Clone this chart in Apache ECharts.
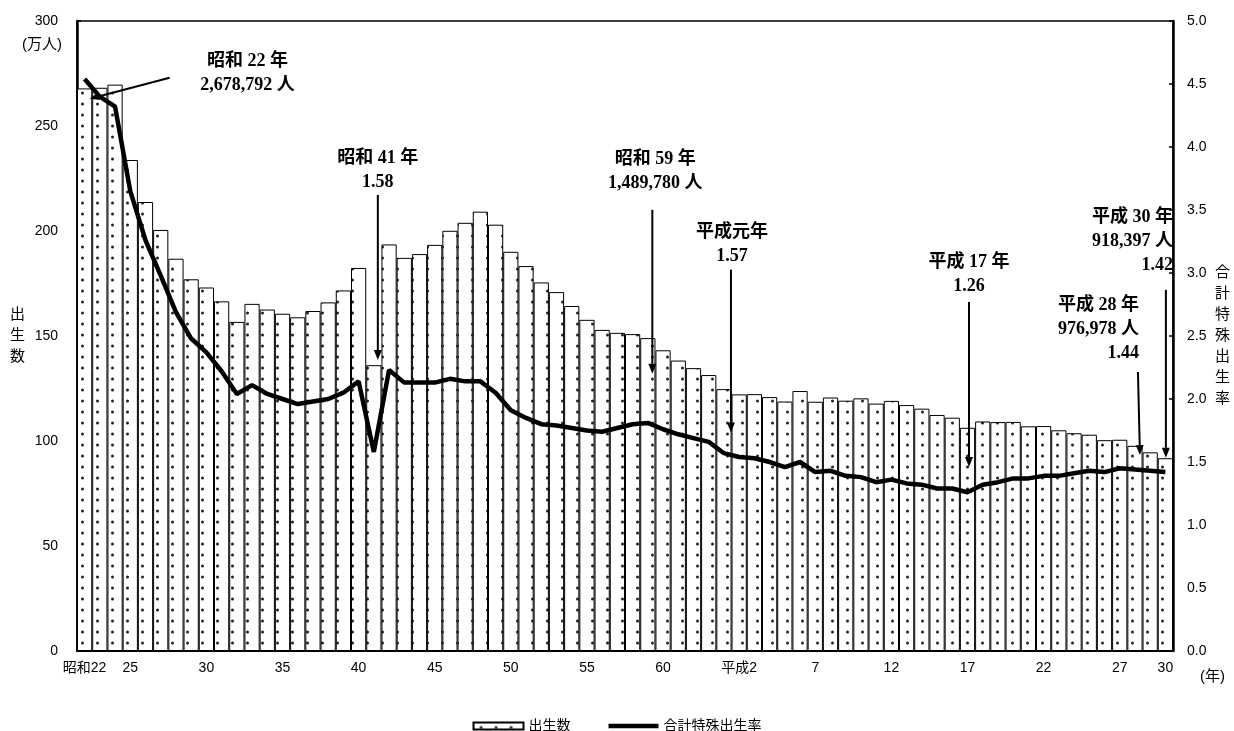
<!DOCTYPE html>
<html>
<head>
<meta charset="utf-8">
<script src="https://cdn.jsdelivr.net/npm/echarts@6/dist/echarts.min.js"></script>
<style>
    html, body { margin: 0; padding: 0; background: #fff; }
    #chart { width: 1234px; height: 731px; }
</style>
</head>
<body>
<div id="chart"></div>
<script>
// 年次（昭和22年〜平成30年）
var categories = [
    '昭和22', '昭和23', '昭和24', '昭和25', '昭和26', '昭和27', '昭和28', '昭和29', '昭和30', '昭和31',
    '昭和32', '昭和33', '昭和34', '昭和35', '昭和36', '昭和37', '昭和38', '昭和39', '昭和40', '昭和41',
    '昭和42', '昭和43', '昭和44', '昭和45', '昭和46', '昭和47', '昭和48', '昭和49', '昭和50', '昭和51',
    '昭和52', '昭和53', '昭和54', '昭和55', '昭和56', '昭和57', '昭和58', '昭和59', '昭和60', '昭和61',
    '昭和62', '昭和63', '平成元', '平成2', '平成3', '平成4', '平成5', '平成6', '平成7', '平成8',
    '平成9', '平成10', '平成11', '平成12', '平成13', '平成14', '平成15', '平成16', '平成17', '平成18',
    '平成19', '平成20', '平成21', '平成22', '平成23', '平成24', '平成25', '平成26', '平成27', '平成28',
    '平成29', '平成30'
];
// x軸に表示する年と表示文字
var tickCats = ['昭和22', '昭和25', '昭和30', '昭和35', '昭和40', '昭和45', '昭和50', '昭和55', '昭和60',
    '平成2', '平成7', '平成12', '平成17', '平成22', '平成27', '平成30'];
var tickTexts = ['昭和22', '25', '30', '35', '40', '45', '50', '55', '60',
    '平成2', '7', '12', '17', '22', '27', '30'];

// 出生数（万人）
var births = [
    267.9, 268.2, 269.7, 233.8, 213.8, 200.5, 186.8, 177.0, 173.1, 166.5,
    156.7, 165.3, 162.6, 160.6, 158.9, 161.9, 166.0, 171.7, 182.4, 136.1,
    193.6, 187.2, 189.0, 193.4, 200.1, 203.9, 209.2, 203.0, 190.1, 183.3,
    175.5, 170.9, 164.3, 157.7, 152.9, 151.5, 150.9, 149.0, 143.2, 138.3,
    134.7, 131.4, 124.7, 122.2, 122.3, 120.9, 118.8, 123.8, 118.7, 120.7,
    119.2, 120.3, 117.8, 119.1, 117.1, 115.4, 112.4, 111.1, 106.3, 109.3,
    109.0, 109.1, 107.0, 107.1, 105.1, 103.7, 103.0, 100.4, 100.6, 97.7,
    94.6, 91.8
];
// 合計特殊出生率
var tfr = [
    4.54, 4.40, 4.32, 3.65, 3.26, 2.98, 2.69, 2.48, 2.37, 2.22,
    2.04, 2.11, 2.04, 2.00, 1.96, 1.98, 2.00, 2.05, 2.14, 1.58,
    2.23, 2.13, 2.13, 2.13, 2.16, 2.14, 2.14, 2.05, 1.91, 1.85,
    1.80, 1.79, 1.77, 1.75, 1.74, 1.77, 1.80, 1.81, 1.76, 1.72,
    1.69, 1.66, 1.57, 1.54, 1.53, 1.50, 1.46, 1.50, 1.42, 1.43,
    1.39, 1.38, 1.34, 1.36, 1.33, 1.32, 1.29, 1.29, 1.26, 1.32,
    1.34, 1.37, 1.37, 1.39, 1.39, 1.41, 1.43, 1.42, 1.45, 1.44,
    1.43, 1.42
];

// 注記: 矢印の先(年, 出生数の値), 矢印の根元のずれ, 文字の位置(根元からのずれ)
var notes = [
    { cat: '昭和22', at: 263, dx: 5, tail: [80, -21], text: '昭和 22 年\n2,678,792 人', pos: [78, -28], align: 'center' },
    { cat: '昭和41', at: 138.6, dx: 4, tail: [0, -165], text: '昭和 41 年\n1.58', pos: [0, -49], align: 'center' },
    { cat: '昭和59', at: 132, dx: 4.5, tail: [0, -164], text: '昭和 59 年\n1,489,780 人', pos: [3, -62], align: 'center' },
    { cat: '平成元', at: 104, dx: 7, tail: [0, -163], text: '平成元年\n1.57', pos: [1, -49], align: 'center' },
    { cat: '平成17', at: 87.6, dx: 1.5, tail: [0, -165], text: '平成 17 年\n1.26', pos: [0, -52], align: 'center' },
    { cat: '平成28', at: 93.3, dx: 5, tail: [-2, -83], text: '平成 28 年\n976,978 人\n1.44', pos: [1, -79], align: 'right' },
    { cat: '平成30', at: 92, dx: 0.5, tail: [0, -168], text: '平成 30 年\n918,397 人\n1.42', pos: [7, -84], align: 'right' }
];

var sansFont = '"Liberation Sans", "Noto Sans CJK JP", sans-serif';
var noteFont = 'bold 18px "Liberation Serif", "Noto Sans CJK JP", serif';

// 棒グラフの点模様
function dotPattern() {
    var c = document.createElement('canvas');
    c.width = 15;
    c.height = 11;
    var ctx = c.getContext('2d');
    ctx.fillStyle = '#fff';
    ctx.fillRect(0, 0, c.width, c.height);
    ctx.fillStyle = '#222';
    ctx.beginPath();
    ctx.arc(7.5, 5, 1.5, 0, Math.PI * 2);
    ctx.fill();
    return c;
}

var myChart = echarts.init(document.getElementById('chart'));

var option = {
    backgroundColor: '#fff',
    animation: false,
    grid: {
        left: 77,
        right: 61,
        top: 21,
        bottom: 80,
        outerBoundsMode: 'none',
        show: true,
        borderColor: '#000',
        borderWidth: 1.5
    },
    legend: {
        left: 'center',
        top: 714,
        itemWidth: 50,
        itemHeight: 7,
        itemGap: 38,
        textStyle: { fontFamily: sansFont, fontSize: 14, color: '#000' },
        data: [
            { name: '出生数', icon: 'rect' },
            { name: '合計特殊出生率', icon: 'path://M0,0L50,0L50,4.5L0,4.5Z' }
        ]
    },
    xAxis: {
        type: 'category',
        data: categories,
        axisTick: { show: false },
        axisLine: { lineStyle: { color: '#000', width: 2 } },
        axisLabel: {
            interval: function (idx, val) {
                return tickCats.indexOf(val) >= 0;
            },
            formatter: function (val) {
                return tickTexts[tickCats.indexOf(val)];
            },
            margin: 10,
            color: '#000',
            fontSize: 14,
            fontFamily: sansFont
        }
    },
    yAxis: [{
        type: 'value',
        min: 0,
        max: 300,
        interval: 50,
        name: '出\n生\n数',
        nameLocation: 'middle',
        nameRotate: 0,
        nameGap: 52,
        nameTextStyle: { fontFamily: sansFont, fontSize: 15, lineHeight: 21, color: '#000' },
        axisLine: { show: true, lineStyle: { color: '#000', width: 2.5 } },
        axisTick: { show: true, inside: true, length: 4, lineStyle: { color: '#000', width: 1.5 } },
        axisLabel: { margin: 19, color: '#000', fontSize: 14, fontFamily: sansFont },
        splitLine: { show: false }
    }, {
        type: 'value',
        min: 0,
        max: 5,
        interval: 0.5,
        position: 'right',
        name: '合\n計\n特\n殊\n出\n生\n率',
        nameLocation: 'middle',
        nameRotate: 0,
        nameGap: 42,
        nameTextStyle: { fontFamily: sansFont, fontSize: 15, lineHeight: 21, color: '#000' },
        axisLine: { show: true, lineStyle: { color: '#000', width: 2.5 } },
        axisTick: { show: true, inside: true, length: 4, lineStyle: { color: '#000', width: 1.5 } },
        axisLabel: {
            margin: 14,
            color: '#000',
            fontSize: 14,
            fontFamily: sansFont,
            formatter: function (v) { return v.toFixed(1); }
        },
        splitLine: { show: false }
    }],
    series: [{
        name: '出生数',
        type: 'bar',
        yAxisIndex: 0,
        barCategoryGap: '0%',
        itemStyle: {
            color: { image: dotPattern(), repeat: 'repeat' },
            borderColor: '#000',
            borderWidth: 1
        },
        data: births
    }, {
        name: '合計特殊出生率',
        type: 'line',
        yAxisIndex: 1,
        symbol: 'none',
        z: 5,
        lineStyle: { color: '#000', width: 4.5 },
        itemStyle: { color: '#000' },
        data: tfr
    }],
    graphic: [{
        type: 'text',
        left: 22,
        top: 37,
        style: { text: '(万人)', font: '15px ' + sansFont, fill: '#000' }
    }, {
        type: 'text',
        left: 1200,
        top: 669,
        style: { text: '(年)', font: '15px ' + sansFont, fill: '#000' }
    }]
};
myChart.setOption(option);

// 注記（矢印と文字）を軸の座標から配置
function buildNotes() {
    var els = [];
    notes.forEach(function (n) {
        var idx = categories.indexOf(n.cat);
        var p = myChart.convertToPixel({ xAxisIndex: 0, yAxisIndex: 0 }, [idx, n.at]);
        var tipX = p[0] + n.dx, tipY = p[1];
        var tx = tipX + n.tail[0], ty = tipY + n.tail[1];
        var ang = Math.atan2(tipY - ty, tipX - tx);
        var len = 10, half = 4;
        var bx = tipX - len * Math.cos(ang), by = tipY - len * Math.sin(ang);
        els.push({
            type: 'line',
            z: 10,
            shape: { x1: tx, y1: ty, x2: bx, y2: by },
            style: { stroke: '#000', lineWidth: 2 }
        });
        els.push({
            type: 'polygon',
            z: 10,
            shape: {
                points: [
                    [tipX, tipY],
                    [bx + half * Math.sin(ang), by - half * Math.cos(ang)],
                    [bx - half * Math.sin(ang), by + half * Math.cos(ang)]
                ]
            },
            style: { fill: '#000' }
        });
        els.push({
            type: 'text',
            z: 10,
            x: tx + n.pos[0],
            y: ty + n.pos[1],
            style: {
                text: n.text,
                font: noteFont,
                lineHeight: 24,
                align: n.align,
                verticalAlign: 'top',
                fill: '#000'
            }
        });
    });
    return els;
}

myChart.setOption({ graphic: option.graphic.concat(buildNotes()) });
</script>
</body>
</html>
